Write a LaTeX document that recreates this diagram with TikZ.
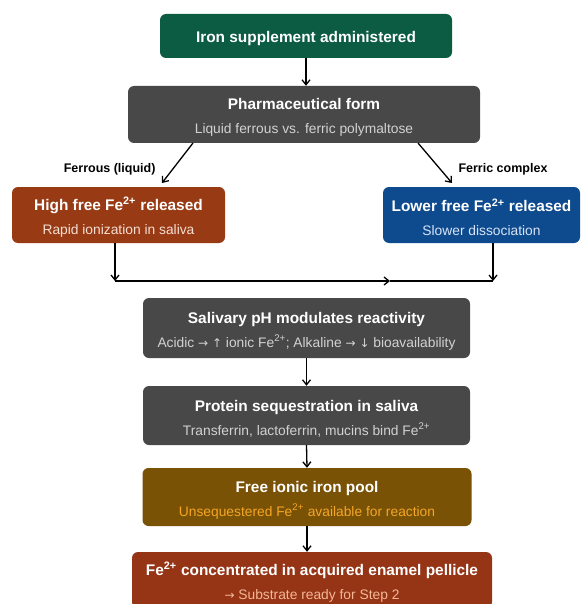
\documentclass[tikz,border=0pt]{standalone}
\usepackage{fontspec}
\setmainfont{Liberation Sans}
\newfontfamily\flechas{DejaVu Sans}
\usetikzlibrary{arrows.meta}

\definecolor{verde}{HTML}{0C5C44}
\definecolor{gris}{HTML}{484848}
\definecolor{oxido}{HTML}{983A14}
\definecolor{azul}{HTML}{0E4A8E}
\definecolor{ocre}{HTML}{7A5206}
\definecolor{ladrillo}{HTML}{963516}
\definecolor{subgris}{HTML}{D2D2D2}
\definecolor{suboxido}{HTML}{F6DED2}
\definecolor{subazul}{HTML}{D6E4F6}
\definecolor{subocre}{HTML}{F4A626}
\definecolor{subladrillo}{HTML}{F3B796}

\newcommand{\titulo}{\fontsize{15.4}{24}\selectfont\bfseries}
\newcommand{\subt}{\fontsize{13.8}{24}\selectfont\mdseries}
\newcommand{\fe}{Fe\textsuperscript{2+}}
\newcommand{\fl}[1]{{\flechas\fontsize{12}{24}\selectfont #1}}
% titulo, color del subtitulo, subtitulo
\newcommand{\dos}[3]{\rule{0pt}{17pt}#1\\{\subt\color{#2}#3}}

\begin{document}
\begin{tikzpicture}[
  x=1pt, y=-1pt,
  caja/.style={rectangle, rounded corners=6pt, align=center, text=white,
               inner sep=0pt, font=\titulo},
  arr/.style={-{Straight Barb[length=5pt,width=8pt]}, line width=1.3pt},
  rotulo/.style={font=\fontsize{12.5}{14}\selectfont\bfseries}
]
\useasboundingbox[fill=white] (0,0) rectangle (587,604);

% --- Inicio ---
\node[caja, fill=verde, minimum width=292pt, minimum height=44pt] (inicio)
      at (306, 36) {\rule{0pt}{17pt}Iron supplement administered};
\node[caja, fill=gris, minimum width=352pt, minimum height=57pt] (forma)
      at (304, 114.5)
      {\dos{Pharmaceutical form}{subgris}{Liquid ferrous vs. ferric polymaltose}};

% --- Ramas ---
\node[caja, fill=oxido, minimum width=213pt, minimum height=56pt] (ferroso)
      at (118.5, 215)
      {\dos{High free \fe{} released}{suboxido}{Rapid ionization in saliva}};
\node[caja, fill=azul, minimum width=197pt, minimum height=56pt] (ferrico)
      at (481.5, 215)
      {\dos{Lower free \fe{} released}{subazul}{Slower dissociation}};

% --- Cadena central ---
\node[caja, fill=gris, minimum width=327pt, minimum height=60pt] (ph)
      at (306.5, 328)
      {\dos{Salivary pH modulates reactivity}{subgris}
       {Acidic \fl{→} \fl{↑} ionic \fe; Alkaline \fl{→} \fl{↓} bioavailability}};
\node[caja, fill=gris, minimum width=327pt, minimum height=59pt] (proteina)
      at (306.5, 415.5)
      {\dos{Protein sequestration in saliva}{subgris}
       {Transferrin, lactoferrin, mucins bind \fe}};
\node[caja, fill=ocre, minimum width=329pt, minimum height=58pt] (pool)
      at (307, 497)
      {\dos{Free ionic iron pool}{subocre}
       {Unsequestered \fe{} available for reaction}};
\node[caja, fill=ladrillo, minimum width=360pt, minimum height=56pt] (pelicula)
      at (312, 580)
      {\dos{\fe{} concentrated in acquired enamel pellicle}{subladrillo}
       {\fl{→} Substrate ready for Step 2}};

% --- Uniones ---
\coordinate (ji) at (115, 281);
\coordinate (jm) at (390, 281);
\coordinate (jd) at (493, 281);

% --- Relaciones ---
\draw[arr] (inicio.south) -- (inicio.south |- forma.north);
\draw[arr] (193, 143) -- (162, 183);
\node[rotulo, anchor=east] (lferroso) at (159, 169) {Ferrous (liquid)};
\draw[arr] (418, 143) -- (452, 183);
\node[rotulo, anchor=west] (lferrico) at (455, 169) {Ferric complex};
\draw[arr] (ferroso.south -| ji) -- (ji);
\draw[arr] (ji) -- (jm);
\draw[line width=1.3pt] (jm) -- (jd);
\draw[arr] (ferrico.south -| jd) -- (jd);
\draw[arr] (ph.south) -- (proteina.north);
\draw[arr] (proteina.south) -- (pool.north);
\draw[arr] (pool.south) -- (pool.south |- pelicula.north);

\end{tikzpicture}
\end{document}
